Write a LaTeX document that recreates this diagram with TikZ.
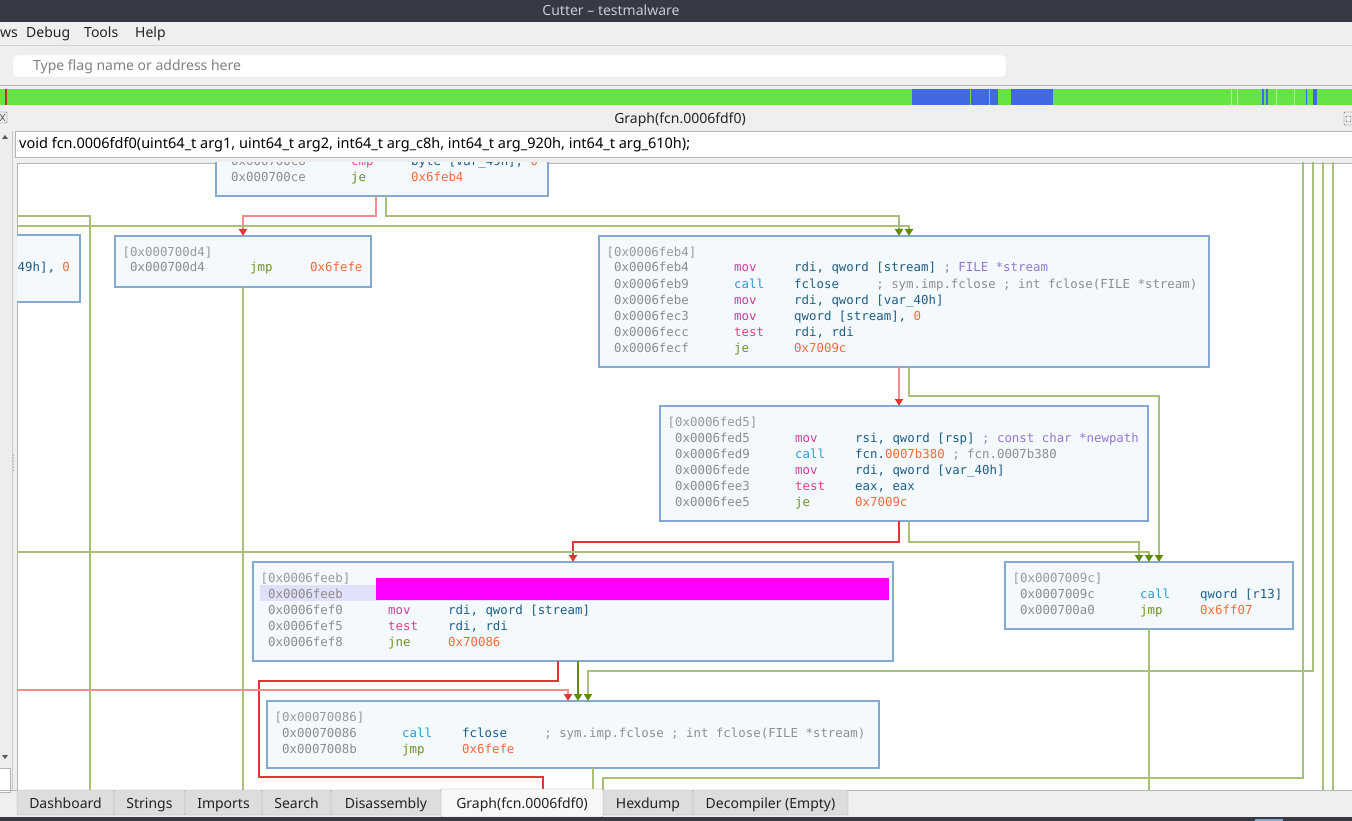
\documentclass[tikz,border=0pt]{standalone}
\usepackage{fontspec}
\setmainfont{Noto Sans}
\setmonofont{DejaVu Sans Mono}
\usetikzlibrary{arrows.meta}
\definecolor{titlebg}{HTML}{353A45}
\definecolor{titlefg}{HTML}{C5CAD3}
\definecolor{uibg}{HTML}{EFEFEF}
\definecolor{uiline}{HTML}{B4B4B4}
\definecolor{uitext}{HTML}{232323}
\definecolor{tabbg}{HTML}{DDDDDD}
\definecolor{ovgreen}{HTML}{67E346}
\definecolor{ovblue}{HTML}{4169E1}
\definecolor{blkfill}{HTML}{F4F9FD}
\definecolor{blkline}{HTML}{85A9CF}
\definecolor{lgreen}{HTML}{AABF78}
\definecolor{dgreen}{HTML}{5F8C00}
\definecolor{dred}{HTML}{E43535}
\definecolor{lred}{HTML}{F08C8C}
\definecolor{addrc}{HTML}{8C8C8C}
\definecolor{hdrc}{HTML}{999999}
\definecolor{movc}{HTML}{CF3D9E}
\definecolor{testc}{HTML}{E2418A}
\definecolor{callc}{HTML}{2B9BD6}
\definecolor{jmpc}{HTML}{6F9020}
\definecolor{opc}{HTML}{1E5E86}
\definecolor{numc}{HTML}{F26B3A}
\definecolor{cmtp}{HTML}{9678D3}
\definecolor{cmtg}{HTML}{8E8E8E}
\definecolor{hilite}{HTML}{E0E0F8}
\definecolor{hlmag}{HTML}{FF00FF}

% block: name, left, top, right, bottom
\newcommand{\blk}[5]{\node[blk, minimum width={#4-(#2)}, minimum height={#5-(#3)}] (#1) at ({(#2+#4)/2},{(#3+#5)/2}) {};}
\newcommand{\blkhead}[2]{\node[code,text=hdrc] (#1-h) at ([shift={(7.5,20)}]#1.north west) {#2};}
% line: block, index, address, mnemonic colour, mnemonic, operands
\newcommand{\ins}[6]{%
  \path ([shift={(15,36+16.1*#2)}]#1.north west) node[code,text=addrc] (#1-a#2) {#3}
    ++(120,0) node[code,text=#4] (#1-m#2) {#5}
    ++(60,0) node[code,text=opc] (#1-o#2) {#6};}

\begin{document}
\begin{tikzpicture}[x=1pt, y=-1pt,
    ui/.style={font=\fontsize{14}{17}\selectfont, inner sep=0pt, text=uitext},
    code/.style={font=\ttfamily\fontsize{12.4}{15}\selectfont, inner sep=0pt, anchor=base west},
    blk/.style={draw=blkline, fill=blkfill, line width=1.2pt, inner sep=0pt, outer sep=0pt},
    eg/.style={draw=lgreen, line width=2pt},
    edg/.style={draw=dgreen, line width=2pt},
    elred/.style={draw=lred, line width=2pt},
    edred/.style={draw=dred, line width=2pt},
    garr/.style={-{Triangle[length=7pt,width=8pt,color=dgreen]}},
    rarr/.style={-{Triangle[length=7pt,width=8pt,color=dred]}}]
\useasboundingbox (0,0) rectangle (1352,821);
\fill[uibg] (0,0) rectangle (1352,821);

% window title and menu
\fill[titlebg] (0,0) rectangle (1352,22);
\node[ui, text=titlefg, anchor=base] (title) at (611,16) {Cutter – testmalware};
\node[ui, anchor=base west] (mwin) at (0,38) {ws};
\node[ui, anchor=base west] (mdebug) at (26,38) {Debug};
\node[ui, anchor=base west] (mtools) at (84,38) {Tools};
\node[ui, anchor=base west] (mhelp) at (135,38) {Help};
\draw[uiline!60] (0,45) -- (1352,45);
\draw[fill=white, draw=white!92!black, rounded corners=4] (13,55) rectangle (1006,77);
\node[ui, text=gray, anchor=base west] (search) at (33,71) {Type flag name or address here};
\draw[uiline] (0,85.5) -- (1352,85.5);

% overview bar
\fill[ovgreen] (0,89) rectangle (1352,105);
\fill[dred!85!black] (5,89) rectangle (7,105);
\foreach \a/\b in {912/970, 971/989, 990/998, 1011/1053, 1262/1264, 1266/1268, 1306/1307, 1313/1317}
  \fill[ovblue] (\a,89) rectangle (\b,105);
\foreach \a in {1231,1237,1276,1294}
  \fill[ovgreen!50!white] (\a,89) rectangle (\a+1.2,105);

% dock header
\node[ui, anchor=base] (dock) at (680,124) {Graph(fcn.0006fdf0)};
\draw[gray!80!black, rounded corners=1] (-2,112) rectangle (7,123);
\draw[gray!80!black, line width=0.8pt] (0,114) -- (5,121) (0,121) -- (5,114);
\draw[gray!80!black, rounded corners=1] (1344,112) rectangle (1354,125);
\draw[gray!80!black, rounded corners=1] (1346,116) rectangle (1351,122);
\draw[fill=white, draw=uiline] (15,131) rectangle (1360,157);
\node[ui, text=black, anchor=base west, font=\fontsize{14.5}{17}\selectfont] (sig) at (19,149) {void fcn.0006fdf0(uint64\_t arg1, uint64\_t arg2, int64\_t arg\_c8h, int64\_t arg\_920h, int64\_t arg\_610h);};

% left strip
\fill[gray!14] (0,131) rectangle (12,790);
\draw[uiline!70] (12.5,131) -- (12.5,790);
\fill[gray!70!black] (2,139) -- (8,139) -- (5,135) -- cycle;
\fill[gray!70!black] (2,755) -- (8,755) -- (5,759) -- cycle;
\draw[fill=white, draw=uiline] (-2,768) rectangle (10,792);
\foreach \yy in {455,458,...,470} \fill[gray] (13.5,\yy) circle (0.5);

% graph area
\fill[white] (17,163) rectangle (1352,790);
\draw[uiline] (17,790) -- (17,163) -- (1352,163);

\begin{scope}
\clip (17,163) rectangle (1352,790);
\coordinate (inL1) at (10,216);
\coordinate (inL2) at (10,226);
\coordinate (inL3) at (10,552);
\coordinate (inL4) at (10,690);
\coordinate (inT1) at (1303,150);
\coordinate (inT2) at (1313,150);
\coordinate (inT3) at (1323,150);
\coordinate (inT4) at (1333,150);
\coordinate (outG0) at (90,800);
\coordinate (outG1) at (603,800);
\coordinate (outG3) at (1323,800);
\coordinate (outG4) at (1333,800);
\coordinate (outR) at (543,800);

\blk{b700c8}{216}{129.4}{548}{196}
\blk{bleft}{-253}{235}{80}{302}
\blk{b700d4}{115}{236}{371}{287}
\blk{b6feb4}{599}{236}{1209}{367}
\blk{b6fed5}{660}{406}{1148}{521}
\blk{b6feeb}{253}{562}{893}{661}
\blk{b7009c}{1005}{562}{1293}{629}
\blk{b70086}{267}{701}{879}{768}

% edges
\draw[elred,rarr] ([xshift=-6]b700c8.south) -- ++(0,20) -| (b700d4.north);
\draw[eg,garr] ([xshift=4]b700c8.south) -- ++(0,20) -| ([xshift=-5]b6feb4.north);
\draw[eg,garr] (inL2) -| ([xshift=5]b6feb4.north);
\draw[eg] (inL1) -| (outG0);
\draw[eg] (b700d4.south) -- (b700d4.south |- outG0);
\draw[elred,rarr] ([xshift=-5]b6feb4.south) -- ([xshift=-5]b6fed5.north);
\draw[eg,garr] ([xshift=5]b6feb4.south) -- ++(0,29) -| ([xshift=10]b7009c.north);
\draw[edred,rarr] ([xshift=-5]b6fed5.south) -- ++(0,21) -| (b6feeb.north);
\draw[eg,garr] ([xshift=5]b6fed5.south) -- ++(0,21) -| ([xshift=-10]b7009c.north);
\draw[eg,garr] (inL3) -| (b7009c.north);
\draw[edred] ([xshift=-15]b6feeb.south) -- ++(0,20) -- ++(-299,0) -- ++(0,96) -| (outR);
\draw[edg,garr] ([xshift=5]b6feeb.south) -- ([xshift=5]b70086.north);
\draw[elred,rarr] (inL4) -| ([xshift=-5]b70086.north);
\draw[eg,garr] (inT2) |- ([xshift=15,yshift=30]b70086.north) -- ([xshift=15]b70086.north);
\draw[eg] (inT1) -- ++(0,628) -| (outG1);
\draw[eg] (inT3) -- (outG3);
\draw[eg] (inT4) -- (outG4);
\draw[eg] ([xshift=20]b70086.south) -- ++(0,40);
\draw[eg] (b7009c.south) -- ++(0,180);

% block text
\ins{b700c8}{0}{0x000700c8}{testc}{cmp}{byte [var\_49h], \textcolor{numc}{0}}
\ins{b700c8}{1}{0x000700ce}{jmpc}{je}{\textcolor{numc}{0x6feb4}}

\node[code,text=opc] (bleft-o0) at (17.5,271) {49h], \textcolor{numc}{0}};

\blkhead{b700d4}{[0x000700d4]}
\ins{b700d4}{0}{0x000700d4}{jmpc}{jmp}{\textcolor{numc}{0x6fefe}}

\blkhead{b6feb4}{[0x0006feb4]}
\ins{b6feb4}{0}{0x0006feb4}{movc}{mov}{rdi, qword [stream] \textcolor{cmtp}{; FILE *stream}}
\ins{b6feb4}{1}{0x0006feb9}{callc}{call}{fclose~~~~~\textcolor{cmtg}{; sym.imp.fclose ; int fclose(FILE *stream)}}
\ins{b6feb4}{2}{0x0006febe}{movc}{mov}{rdi, qword [var\_40h]}
\ins{b6feb4}{3}{0x0006fec3}{movc}{mov}{qword [stream], \textcolor{numc}{0}}
\ins{b6feb4}{4}{0x0006fecc}{testc}{test}{rdi, rdi}
\ins{b6feb4}{5}{0x0006fecf}{jmpc}{je}{\textcolor{numc}{0x7009c}}

\blkhead{b6fed5}{[0x0006fed5]}
\ins{b6fed5}{0}{0x0006fed5}{movc}{mov}{rsi, qword [rsp] \textcolor{cmtp}{; const char *newpath}}
\ins{b6fed5}{1}{0x0006fed9}{callc}{call}{fcn.\textcolor{numc}{0007b380} \textcolor{cmtg}{; fcn.0007b380}}
\ins{b6fed5}{2}{0x0006fede}{movc}{mov}{rdi, qword [var\_40h]}
\ins{b6fed5}{3}{0x0006fee3}{testc}{test}{eax, eax}
\ins{b6fed5}{4}{0x0006fee5}{jmpc}{je}{\textcolor{numc}{0x7009c}}

\blkhead{b6feeb}{[0x0006feeb]}
\fill[hilite] ([shift={(7,23)}]b6feeb.north west) rectangle ([shift={(-4,39)}]b6feeb.north east);
\fill[hlmag] ([shift={(123,16)}]b6feeb.north west) rectangle ([shift={(-4,38)}]b6feeb.north east);
\node[code,text=addrc] (b6feeb-a0) at ([shift={(15,36)}]b6feeb.north west) {0x0006feeb};
\ins{b6feeb}{1}{0x0006fef0}{movc}{mov}{rdi, qword [stream]}
\ins{b6feeb}{2}{0x0006fef5}{testc}{test}{rdi, rdi}
\ins{b6feeb}{3}{0x0006fef8}{jmpc}{jne}{\textcolor{numc}{0x70086}}

\blkhead{b7009c}{[0x0007009c]}
\ins{b7009c}{0}{0x0007009c}{callc}{call}{qword [r13]}
\ins{b7009c}{1}{0x000700a0}{jmpc}{jmp}{\textcolor{numc}{0x6ff07}}

\blkhead{b70086}{[0x00070086]}
\ins{b70086}{0}{0x00070086}{callc}{call}{fclose~~~~~\textcolor{cmtg}{; sym.imp.fclose ; int fclose(FILE *stream)}}
\ins{b70086}{1}{0x0007008b}{jmpc}{jmp}{\textcolor{numc}{0x6fefe}}
\end{scope}

% tab bar
\draw[uiline] (0,790) -- (1352,790);
\foreach \l/\r/\t in {17/114/Dashboard, 114/185/Strings, 185/262/Imports, 262/331/Search, 331/441/Disassembly, 603/693/Hexdump, 693/848/Decompiler (Empty)} {
  \draw[fill=tabbg, draw=uiline, rounded corners=1] (\l,790) rectangle (\r,815);
  \node[ui, anchor=base] (tab\l) at ({(\l+\r)/2},808) {\t};
}
\draw[fill=white!97!black, draw=uiline, rounded corners=1] (441,789) rectangle (603,817);
\node[ui, anchor=base] (tabgraph) at (522,808) {Graph(fcn.0006fdf0)};
\fill[titlebg] (0,817) rectangle (1352,821);
\fill[blkline] (1255,819) rectangle (1283,821);
\end{tikzpicture}
\end{document}
